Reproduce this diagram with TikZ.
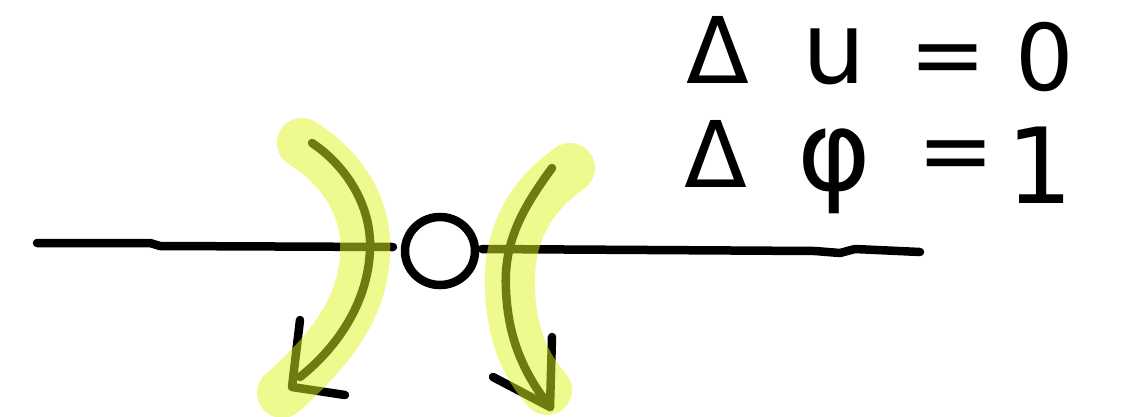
\documentclass[tikz,border=0pt]{standalone}
\usepackage{fontspec}
\usetikzlibrary{shapes.geometric}
\newfontfamily\handfont{DejaVu Sans}
\begin{document}
\begin{tikzpicture}[x=1pt,y=-1pt,
  ink/.style={line width=8.5pt,line cap=round,line join=round,black},
  hilite/.style={line width=50pt,line cap=round,line join=round,
     draw={rgb,255:red,222;green,245;blue,30},draw opacity=0.5},
  glyph/.style={anchor=base,inner sep=0pt,font=\handfont\fontsize{92}{92}\selectfont}]
\useasboundingbox (0,0) rectangle (1124,416);
% baseline
\coordinate (l0) at (37,243);
\coordinate (l1) at (393,247);
\coordinate (r0) at (482,249);
\coordinate (r1) at (920,252);
\draw[ink] (l0) -- (150,243) -- (160,246) -- (l1);
\draw[ink] (r0) -- (815,251) -- (840,253) -- (855,249) -- (r1);
% circle
\node[draw,ink,ellipse,minimum width=70pt,minimum height=68pt,inner sep=0pt] (c) at (440,251) {};
% left arrow
\coordinate (la0) at (312,143);
\coordinate (la1) at (300,377);
\coordinate (lh0) at (300,320);
\coordinate (lh1) at (292,387);
\coordinate (lh2) at (345,395);
\draw[ink] (la0) .. controls (345,165) and (372,205) .. (370,250) .. controls (368,300) and (340,345) .. (la1);
\draw[ink] (lh0) -- (lh1) -- (lh2);
% right arrow
\coordinate (ra0) at (552,168);
\coordinate (ra1) at (550,407);
\coordinate (rh0) at (552,337);
\coordinate (rh1) at (493,377);
\draw[ink] (ra0) .. controls (525,205) and (503,240) .. (506,290) .. controls (508,340) and (525,375) .. (ra1);
\draw[ink] (rh0) -- (ra1) -- (rh1);
% highlights (on top, translucent)
\draw[hilite] (302,143) .. controls (345,170) and (368,210) .. (365,255) .. controls (362,310) and (330,350) .. (282,393);
\draw[hilite] (570,168) .. controls (525,200) and (508,240) .. (510,290) .. controls (512,335) and (525,365) .. (547,390);
% equations
\node[glyph] (d1) at (718,83) {Δ};
\node[glyph,font=\handfont\fontsize{100}{100}\selectfont] (u1) at (834,83) {u};
\node[glyph] (q1) at (948,86) {=};
\node[glyph] (z1) at (1045,90) {0};
\node[glyph] (d2) at (716,187) {Δ};
\node[glyph,font=\handfont\fontsize{112}{112}\selectfont] (p2) at (834,190) {φ};
\node[glyph] (q2) at (956,182) {=};
\node[glyph,font=\handfont\fontsize{105}{105}\selectfont] (o2) at (1040,203) {1};
\end{tikzpicture}
\end{document}
